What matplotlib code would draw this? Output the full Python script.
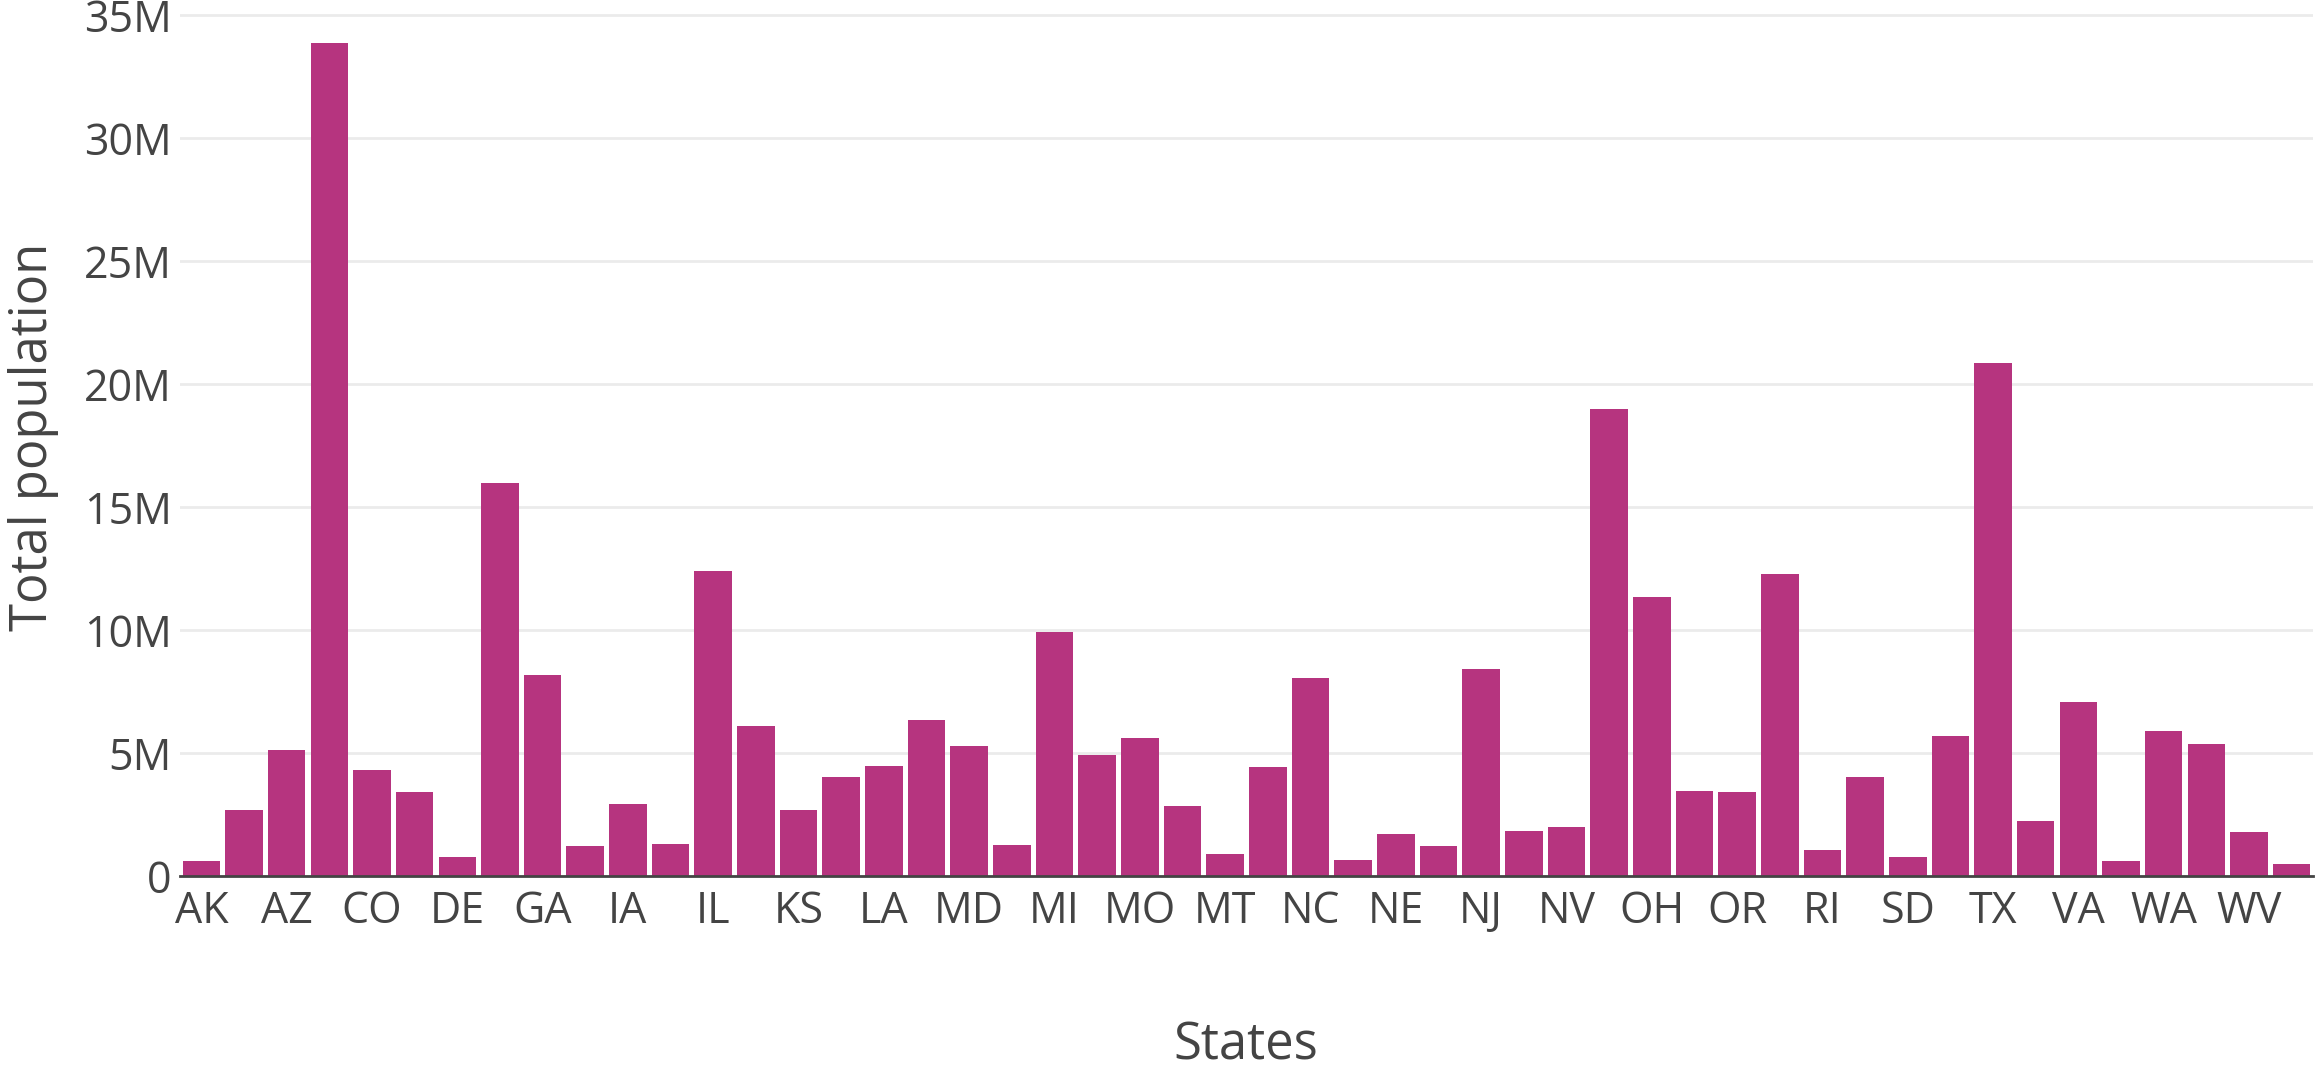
import matplotlib
matplotlib.use("Agg")
import matplotlib.pyplot as plt
from matplotlib.ticker import FuncFormatter

# 2000 census population, in the order the bars appear
states = [
    "AK", "AR", "AZ", "CA", "CO", "CT", "DE", "FL", "GA", "HI",
    "IA", "ID", "IL", "IN", "KS", "KY", "LA", "MA", "MD", "ME",
    "MI", "MN", "MO", "MS", "MT", "AL", "NC", "ND", "NE", "NH",
    "NJ", "NM", "NV", "NY", "OH", "OK", "OR", "PA", "RI", "SC",
    "SD", "TN", "TX", "UT", "VA", "VT", "WA", "WI", "WV", "WY",
]
population = [
    0.627, 2.673, 5.131, 33.87, 4.301, 3.406, 0.784, 15.98, 8.186, 1.212,
    2.926, 1.294, 12.42, 6.080, 2.688, 4.042, 4.469, 6.349, 5.296, 1.275,
    9.938, 4.919, 5.595, 2.845, 0.902, 4.447, 8.049, 0.642, 1.711, 1.236,
    8.414, 1.819, 1.998, 18.98, 11.35, 3.451, 3.421, 12.28, 1.048, 4.012,
    0.755, 5.689, 20.85, 2.233, 7.079, 0.609, 5.894, 5.364, 1.808, 0.494,
]
population = [p * 1e6 for p in population]

y_ticks = [0, 5e6, 10e6, 15e6, 20e6, 25e6, 30e6, 35e6]

plt.rcParams["font.family"] = ["Open Sans", "DejaVu Sans"]
text_color = "#444444"
bar_color = "#B6347F"

W, H = 2316, 1072
fig = plt.figure(figsize=(W / 100, H / 100), dpi=100)
ax = fig.add_axes([180 / W, (H - 876) / H, (2313 - 180) / W, 876 / H])

x = list(range(len(states)))
ax.bar(x, population, width=0.88, color=bar_color, zorder=2)

ax.set_xlim(-0.5, len(states) - 0.5)
ax.set_ylim(0, 35.62e6)
ax.set_yticks(y_ticks)
ax.yaxis.set_major_formatter(
    FuncFormatter(lambda v, _: "0" if v == 0 else f"{v / 1e6:.0f}M")
)
ax.set_xticks(x[::2])
ax.set_xticklabels(states[::2])

ax.grid(axis="y", color="#EBEBEB", linewidth=2, zorder=0)
for side in ["top", "right", "left"]:
    ax.spines[side].set_visible(False)
ax.spines["bottom"].set_color(text_color)
ax.spines["bottom"].set_linewidth(2)
ax.spines["bottom"].set_zorder(3)

ax.tick_params(axis="both", length=0, labelsize=31, colors=text_color)
ax.tick_params(axis="x", pad=10)
ax.tick_params(axis="y", pad=6)

fig.text(1246 / W, 1 - 1046 / H, "States", ha="center", va="center",
         fontsize=36.5, color=text_color)
fig.text(34 / W, 1 - 437 / H, "Total population", ha="center", va="center",
         rotation=90, fontsize=36.5, color=text_color)

fig.savefig("out.png", dpi=100)
